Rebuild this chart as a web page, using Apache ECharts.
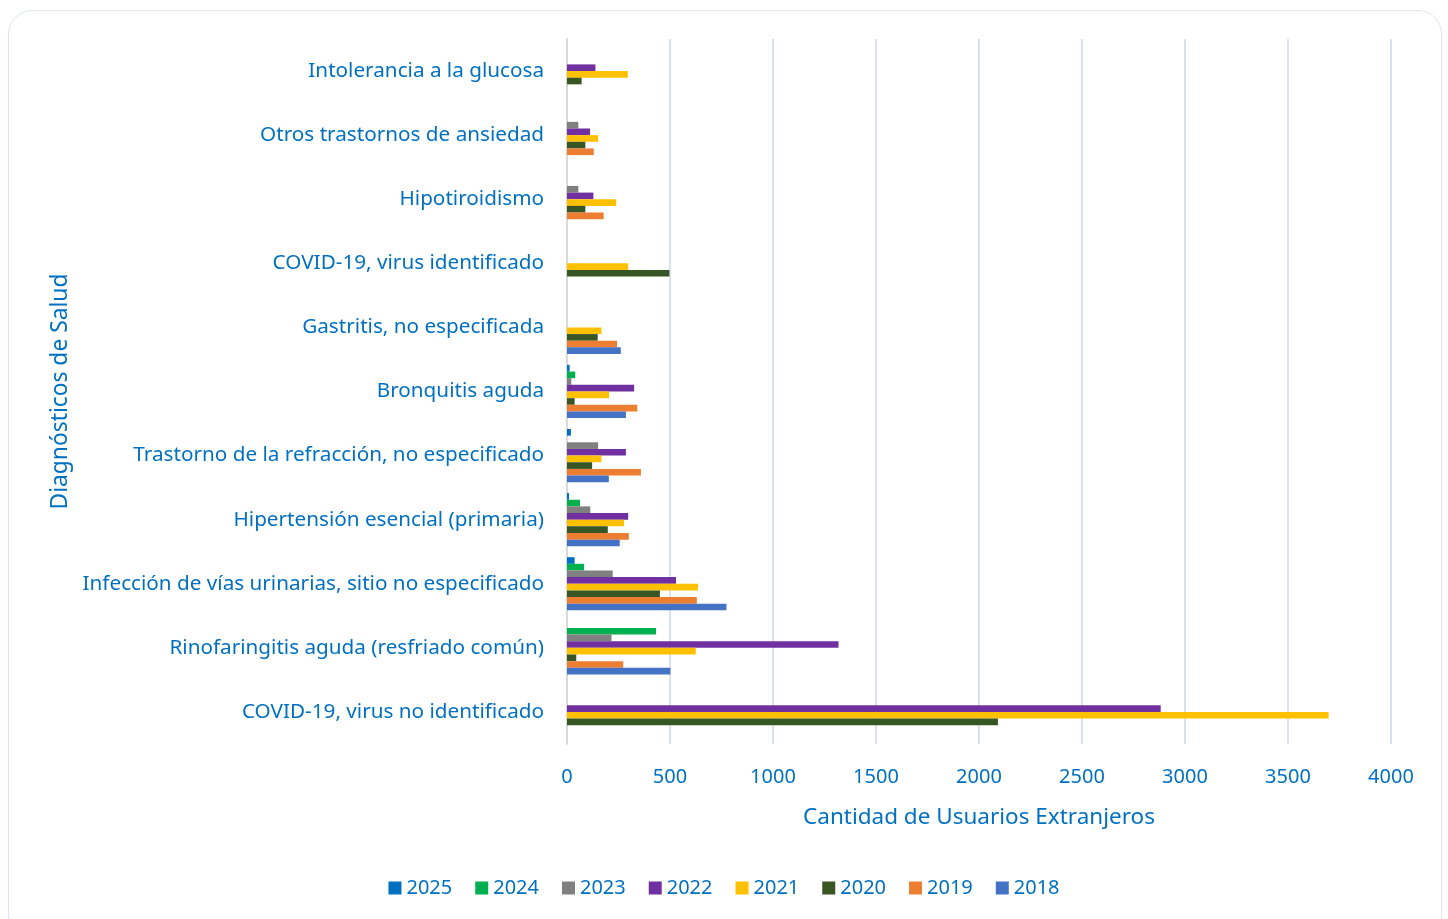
<!DOCTYPE html>
<html>
<head>
<meta charset="utf-8">
<script src="https://cdn.jsdelivr.net/npm/echarts@6/dist/echarts.min.js"></script>
<style>
html,body{margin:0;padding:0;background:#fff;width:1448px;height:919px;overflow:hidden;}
#frame{position:absolute;left:8px;top:10px;width:1434px;height:930px;border:1.5px solid #dfe4f0;border-radius:24px;box-sizing:border-box;}
#chart{position:absolute;left:0;top:0;width:1448px;height:919px;}
</style>
</head>
<body>
<div id="frame"></div>
<div id="chart"></div>
<script>
// Categories listed bottom -> top
const categories = [
  "COVID-19, virus no identificado",
  "Rinofaringitis aguda (resfriado común)",
  "Infección de vías urinarias, sitio no especificado",
  "Hipertensión esencial (primaria)",
  "Trastorno de la refracción, no especificado",
  "Bronquitis aguda",
  "Gastritis, no especificada",
  "COVID-19, virus identificado",
  "Hipotiroidismo",
  "Otros trastornos de ansiedad",
  "Intolerancia a la glucosa"
];
const v2018 = [null, 502, 774, 256, 203, 286, 261, null, null, null, null];
const v2019 = [null, 273, 630, 300, 359, 341, 243, null, 178, 130, null];
const v2020 = [2092, 45, 451, 198, 122, 37, 149, 497, 89, 89, 71];
const v2021 = [3697, 625, 636, 277, 167, 204, 167, 297, 239, 151, 295];
const v2022 = [2882, 1318, 529, 297, 286, 326, null, null, 128, 112, 138];
const v2023 = [null, 216, 222, 113, 151, 21, null, null, 55, 55, null];
const v2024 = [null, 432, 83, 63, null, 40, null, null, null, null, null];
const v2025 = [null, null, 37, 10, 19, 13, null, null, null, null, null];
const xTicks = [0, 500, 1000, 1500, 2000, 2500, 3000, 3500, 4000];

// series order: first series drawn at top of each category band
const years = ["2025","2024","2023","2022","2021","2020","2019","2018"];
const values = [v2025, v2024, v2023, v2022, v2021, v2020, v2019, v2018];
const colors = ["#0070C0","#00B050","#808080","#7030A0","#FFC000","#375623","#ED7D31","#4472C4"];

const txt = "#0070C0";
const font = "Noto Sans";

const chart = echarts.init(document.getElementById('chart'), null, {renderer:'canvas'});
chart.setOption({
  animation: false,
  textStyle: {fontFamily: font},
  grid: {left: 567, right: 57, top: 39, bottom: 175, containLabel: false},
  legend: {
    data: years,
    top: 873,
    left: 'center',
    itemWidth: 13, itemHeight: 13, itemGap: 23,
    icon: 'rect',
    textStyle: {color: txt, fontSize: 20, fontFamily: font}
  },
  xAxis: {
    type: 'value', min: xTicks[0], max: xTicks[xTicks.length-1], interval: 500,
    name: 'Cantidad de Usuarios Extranjeros', nameLocation: 'middle', nameGap: 62,
    nameTextStyle: {color: txt, fontSize: 22.5, fontFamily: font},
    axisLabel: {color: txt, fontSize: 20, margin: 23, fontFamily: font, formatter: v => String(v)},
    axisLine: {show: false}, axisTick: {show: false},
    splitLine: {show: true, lineStyle: {color: '#D9E1F2', width: 2}}
  },
  yAxis: {
    type: 'category', data: categories, inverse: false,
    name: 'Diagnósticos de Salud', nameLocation: 'middle', nameGap: 495, nameRotate: 90,
    nameTextStyle: {color: txt, fontSize: 22.8, fontFamily: font},
    axisLabel: {color: txt, fontSize: 20.7, margin: 23, fontFamily: font},
    axisLine: {show: true, lineStyle: {color: '#D9D9D9', width: 2}},
    axisTick: {show: false}
  },
  series: years.map((y, i) => ({
    name: y, type: 'bar', data: values[i],
    itemStyle: {color: colors[i]},
    barGap: '0%', barCategoryGap: '17%'
  }))
});
</script>
</body>
</html>
